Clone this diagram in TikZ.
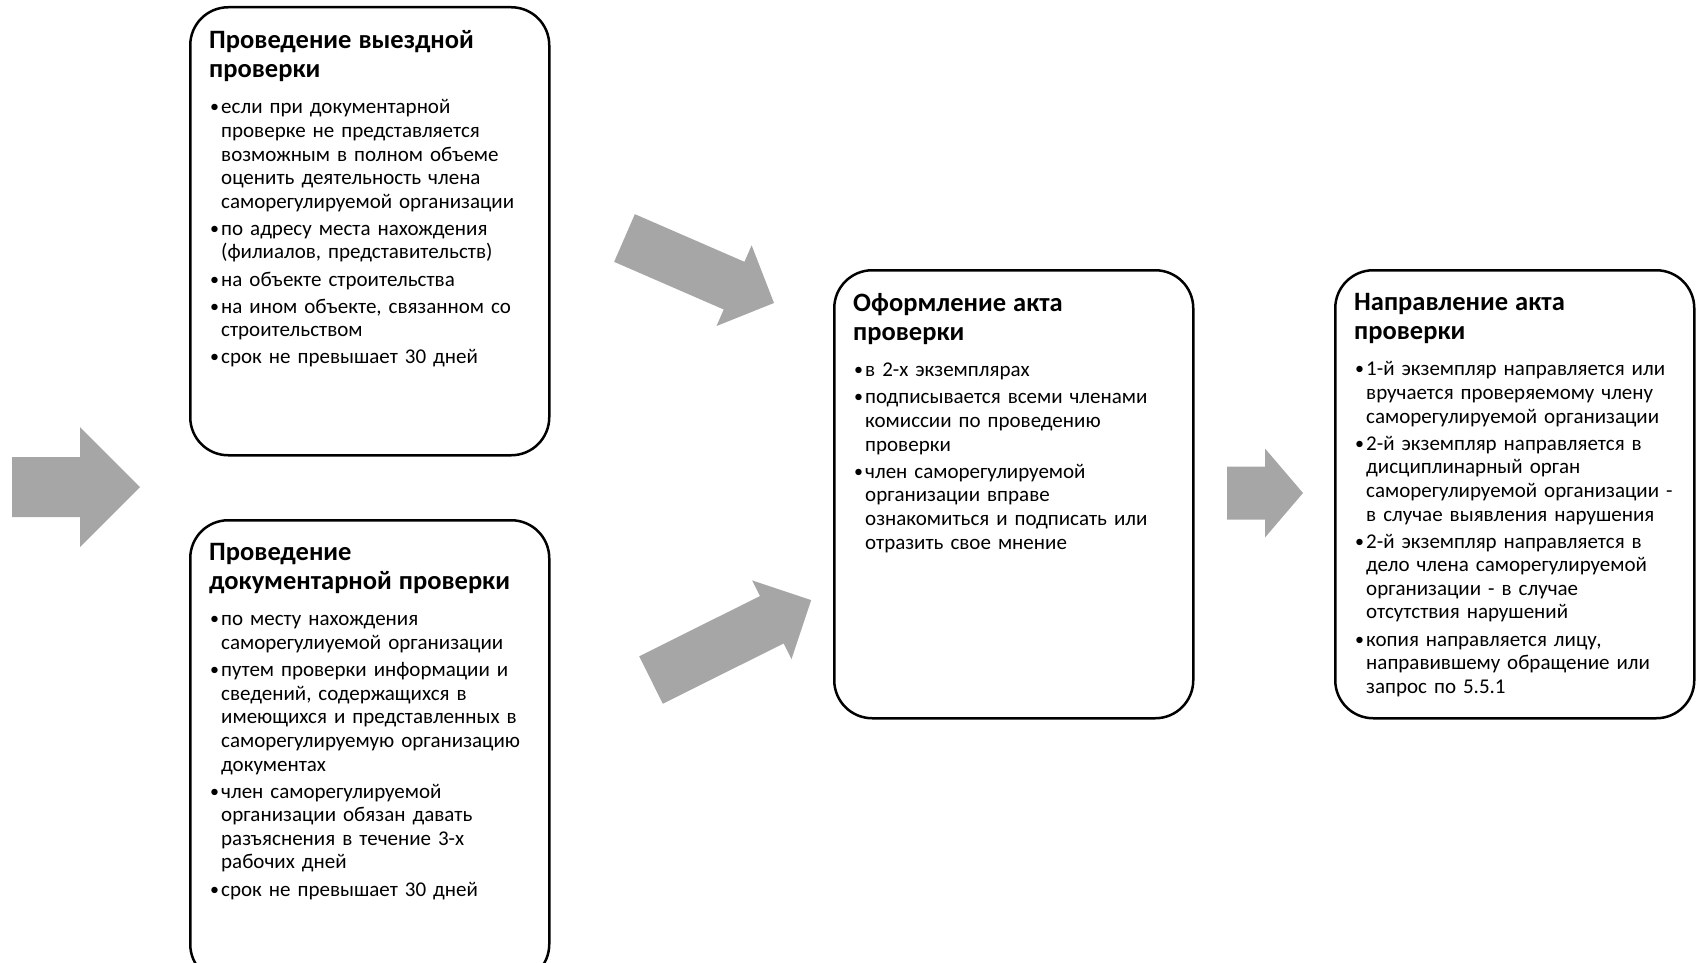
\documentclass[tikz,border=0pt]{standalone}
\usepackage{fontspec}
\setmainfont{Carlito}
\usepackage{tikz}

\definecolor{arrowgray}{HTML}{A6A6A6}

\tikzset{
  stagebox/.style={draw=black, line width=2.5pt, rounded corners=38pt,
    minimum width=359pt, minimum height=448pt, inner sep=0pt, anchor=north west},
  stagetext/.style={anchor=north west, inner sep=0pt, text width=330pt, align=left,
    font=\fontsize{21}{23.6}\selectfont},
}

\begin{document}
\begin{tikzpicture}[x=1pt,y=-1pt]
            \newcommand{\itm}[1]{\par\hangindent=12pt\hangafter=1\noindent\makebox[12pt][l]{\hspace{1pt}\raisebox{1pt}{\fontsize{18}{18}\selectfont•}}{\let\\\newline #1}\par\vspace{3.5pt}}
            \newcommand{\ttl}[1]{{\fontsize{26.5}{29}\selectfont\bfseries #1\par}\vspace{13pt}}
            % x, y, angle, length, shaft, head, head length
            \newcommand{\blockarr}[7]{
                \fill[arrowgray, shift={(#1,#2)}, rotate=#3]
                    (0,{-#5/2}) -- ({#4-#7},{-#5/2}) -- ({#4-#7},{-#6/2}) -- (#4,0)
                    -- ({#4-#7},{#6/2}) -- ({#4-#7},{#5/2}) -- (0,{#5/2}) -- cycle;
            }

            \useasboundingbox (0,0) rectangle (1696,963);
            \clip (0,0) rectangle (1696,963);

            % \node[stagebox] (start) at (0,0) {};
            \node[stagebox] (vyezd) at (189,6) {};
            \node[stagebox, minimum height=462pt] (dokum) at (189,519) {};
            \node[stagebox] (oform) at (833,269) {};
            \node[stagebox] (naprav) at (1334,269) {};

            \node[stagetext] (vyezd-t) at ([shift={(20,24)}]vyezd.north west) {%
                \ttl{Проведение выездной\\проверки}
                \itm{если при документарной\\проверке не представляется\\возможным в полном объеме\\оценить деятельность члена\\саморегулируемой организации}
                \itm{по адресу места нахождения\\(филиалов, представительств)}
                \itm{на объекте строительства}
                \itm{на ином объекте, связанном со\\строительством}
                \itm{срок не превышает 30 дней}};

            \node[stagetext] (dokum-t) at ([shift={(20,24)}]dokum.north west) {%
                \ttl{Проведение\\документарной проверки}
                \itm{по месту нахождения\\саморегулиуемой организации}
                \itm{путем проверки информации и\\сведений, содержащихся в\\имеющихся и представленных в\\саморегулируемую организацию\\документах}
                \itm{член саморегулируемой\\организации обязан давать\\разъяснения в течение 3-х\\рабочих дней}
                \itm{срок не превышает 30 дней}};

            \node[stagetext] (oform-t) at ([shift={(20,24)}]oform.north west) {%
                \ttl{Оформление акта\\проверки}
                \itm{в 2-х экземплярах}
                \itm{подписывается всеми членами\\комиссии по проведению\\проверки}
                \itm{член саморегулируемой\\организации вправе\\ознакомиться и подписать или\\отразить свое мнение}};

            \node[stagetext] (naprav-t) at ([shift={(20,24)}]naprav.north west) {%
                \ttl{Направление акта\\проверки}
                \itm{1-й экземпляр направляется или\\вручается проверяемому члену\\саморегулируемой организации}
                \itm{2-й экземпляр направляется в\\дисциплинарный орган\\саморегулируемой организации -\\в случае выявления нарушения}
                \itm{2-й экземпляр направляется в\\дело члена саморегулируемой\\организации - в случае\\отсутствия нарушений}
                \itm{копия направляется лицу,\\направившему обращение или\\запрос по 5.5.1}};

            % arrows
            \blockarr{12}{487}{0}{128}{60}{120}{60}
            \blockarr{624.5}{238}{-23.5}{163}{52}{88}{43.5}
            \blockarr{651}{680}{26.5}{179}{53}{88}{44}
            \blockarr{1227}{493}{0}{76}{53}{89}{38}
        \end{tikzpicture}
\end{document}
